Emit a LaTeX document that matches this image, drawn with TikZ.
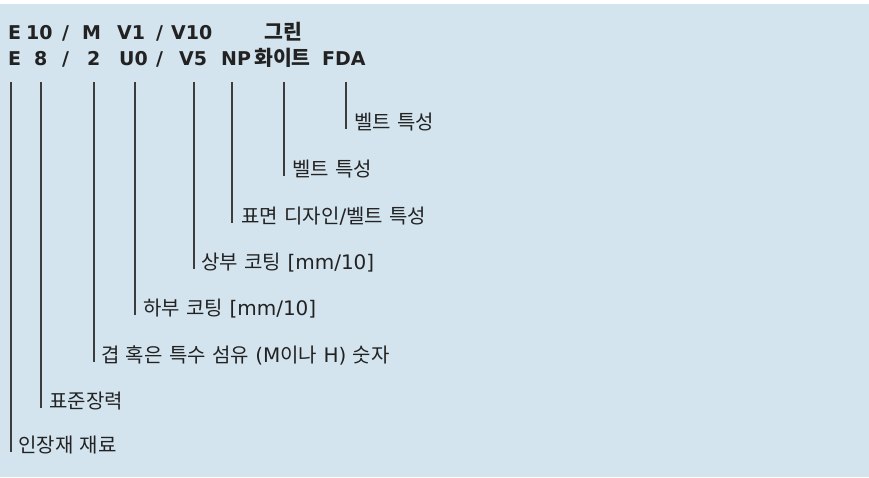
\documentclass[tikz,border=0pt]{standalone}
\usepackage{fontspec}
\setmainfont{DejaVu Sans}
\newfontfamily\krfont{Noto Sans CJK KR}
\newcommand\hk[1]{{\krfont #1}}
\newcommand\hkb[1]{{\krfont\fontsize{20.5}{22}\selectfont #1}}
\definecolor{bgblue}{RGB}{211,228,239}
\definecolor{txt}{RGB}{34,34,34}
\definecolor{ln}{RGB}{60,60,60}
\begin{document}
\begin{tikzpicture}[x=1pt,y=-1pt,
  hdr/.style={anchor=base west,inner sep=0pt,text=txt,font=\fontsize{19}{21}\selectfont\bfseries},
  lbl/.style={anchor=base west,inner sep=0pt,text=txt,font=\fontsize{20}{22}\selectfont},
  lead/.style={draw=ln,line width=1.1pt}]
\useasboundingbox (0,0) rectangle (869,477);
\fill[bgblue] (0,4) rectangle (869,477);
% header line 1
\node[hdr] (a1) at (8,39) {E};
\node[hdr] (a2) at (26,39) {10};
\node[hdr] (a3) at (62,39) {/};
\node[hdr] (a4) at (82,39) {M};
\node[hdr] (a5) at (117,39) {V1};
\node[hdr] (a6) at (156,39) {/};
\node[hdr] (a7) at (171,39) {V10};
\node[hdr] (a8) at (264,39) {\hkb{그린}};
% header line 2
\node[hdr] (b1) at (8,65) {E};
\node[hdr] (b2) at (34,65) {8};
\node[hdr] (b3) at (62,65) {/};
\node[hdr] (b4) at (87,65) {2};
\node[hdr] (b5) at (119,65) {U0};
\node[hdr] (b6) at (156,65) {/};
\node[hdr] (b7) at (179,65) {V5};
\node[hdr] (b8) at (221,65) {NP};
\node[hdr] (b9) at (254,65) {\hkb{화이트}};
\node[hdr] (b10) at (322,65) {FDA};
% leader tops
\coordinate (t1) at (11,82);
\coordinate (t2) at (41,82);
\coordinate (t3) at (94,82);
\coordinate (t4) at (135,82);
\coordinate (t5) at (194,82);
\coordinate (t6) at (232,82);
\coordinate (t7) at (284,82);
\coordinate (t8) at (346,82);
% labels
\node[lbl] (l1) at (18,452) {\hk{인장재} \hk{재료}};
\node[lbl] (l2) at (49,408) {\hk{표준장력}};
\node[lbl] (l3) at (101,362) {\hk{겹} \hk{혹은} \hk{특수} \hk{섬유} (M\hk{이나} H) \hk{숫자}};
\node[lbl] (l4) at (143,315) {\hk{하부} \hk{코팅} [mm/10]};
\node[lbl] (l5) at (201,269) {\hk{상부} \hk{코팅} [mm/10]};
\node[lbl] (l6) at (241,223) {\hk{표면} \hk{디자인}/\hk{벨트} \hk{특성}};
\node[lbl] (l7) at (292,176) {\hk{벨트} \hk{특성}};
\node[lbl] (l8) at (354,129) {\hk{벨트} \hk{특성}};
% leaders
\foreach \i in {1,...,8}{\draw[lead] (t\i) -- (t\i |- l\i.base);}
\end{tikzpicture}
\end{document}
